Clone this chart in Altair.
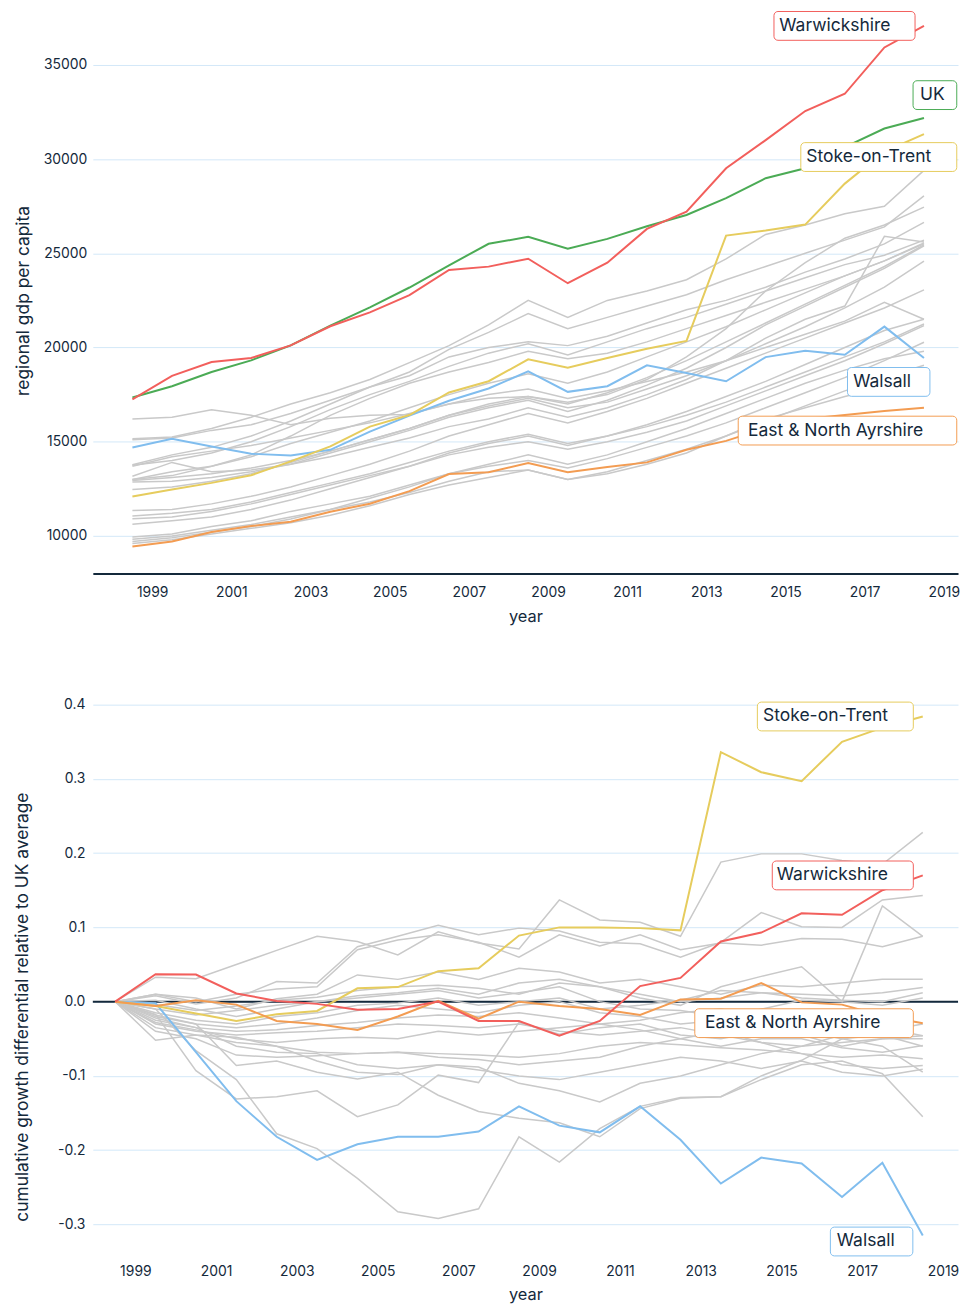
import altair as alt
import pandas as pd

years = list(range(1998, 2019))

# ---------------- top panel: regional GDP per capita ----------------
gdp_warwickshire = [17243, 18491, 19230, 19440, 20109, 21128, 21867, 22781, 24117, 24293, 24713,
                    23412, 24502, 26295, 27209, 29512, 31006, 32553, 33468, 35929, 37071]
gdp_uk = [17348, 17946, 18702, 19317, 20109, 21163, 22130, 23185, 24363, 25506, 25873,
          25240, 25768, 26435, 27033, 27930, 28985, 29512, 30637, 31622, 32184]
gdp_stoke = [12092, 12461, 12813, 13217, 13955, 14747, 15801, 16417, 17612, 18210, 19370,
             18929, 19439, 19931, 20353, 25943, 26207, 26524, 28700, 30400, 31323]
gdp_walsall = [14694, 15151, 14747, 14360, 14272, 14571, 15538, 16382, 17173, 17823, 18737,
               17646, 17944, 19052, 18648, 18208, 19491, 19825, 19615, 21109, 19439]
gdp_ayrshire = [9437, 9701, 10211, 10527, 10756, 11283, 11705, 12373, 13287, 13375, 13868,
                13374, 13655, 13901, 14569, 15044, 15713, 16205, 16416, 16627, 16802]

gdp_other_01 = [15151, 15250, 15700, 16300, 17000, 17600, 18300, 19200, 20100, 21200, 22500, 21600, 22500, 23000, 23600, 24700, 26000, 26500, 27100, 27500, 29400]
gdp_other_02 = [13780, 14300, 14700, 15300, 16100, 17000, 17900, 18700, 19900, 20800, 21800, 21000, 21600, 22200, 22800, 23600, 24300, 25000, 25700, 26400, 28050]
gdp_other_03 = [16206, 16300, 16700, 16400, 15900, 16250, 16400, 16450, 17000, 17300, 17400, 17100, 17500, 18300, 19500, 21000, 23000, 24500, 25800, 26500, 27450]
gdp_other_04 = [15098, 15200, 15600, 15900, 16500, 17200, 17900, 18500, 19500, 20000, 20300, 20100, 20600, 21300, 22000, 22500, 23200, 24000, 24700, 25500, 26645]
gdp_other_05 = [13745, 14000, 14400, 15000, 15800, 16700, 17500, 18200, 19000, 19700, 20200, 19600, 20300, 21000, 21600, 22300, 23000, 23700, 24400, 24900, 25700]
gdp_other_06 = [13164, 13900, 13400, 13500, 13800, 14200, 14700, 15200, 15800, 16200, 16800, 16300, 16800, 17500, 18300, 19300, 20500, 21500, 22200, 25900, 25600]
gdp_other_07 = [12989, 13200, 13700, 14200, 14900, 15500, 16100, 16800, 17500, 18100, 18600, 18100, 18700, 19500, 20300, 21100, 22000, 22900, 23800, 24600, 25550]
gdp_other_08 = [12936, 13100, 13300, 13600, 14000, 14500, 15100, 15700, 16400, 17000, 17400, 17000, 17600, 18400, 19300, 20300, 21300, 22300, 23300, 24300, 25450]
gdp_other_09 = [12866, 12900, 13100, 13400, 13800, 14400, 15000, 15600, 16300, 16800, 17200, 16600, 17200, 18000, 18900, 20000, 21200, 22200, 23200, 24200, 25400]
gdp_other_10 = [12461, 12600, 12900, 13300, 13900, 14500, 15100, 15700, 16400, 16900, 17300, 16800, 17100, 17800, 18500, 19300, 20200, 21100, 22100, 23200, 24586]
gdp_other_11 = [13700, 14200, 14500, 14800, 15200, 15600, 16000, 16500, 17000, 17500, 17800, 17300, 17700, 18200, 18700, 19300, 20000, 20700, 21400, 22400, 21500]
gdp_other_12 = [11354, 11400, 11700, 12100, 12600, 13200, 13800, 14500, 15300, 15900, 16500, 16000, 16600, 17300, 18100, 18900, 19700, 20500, 21300, 22100, 23056]
gdp_other_13 = [11055, 11200, 11400, 11800, 12300, 12800, 13300, 13900, 14500, 15000, 15400, 14900, 15300, 15800, 16400, 17100, 17900, 18700, 19500, 20300, 21250]
gdp_other_14 = [10914, 11000, 11300, 11700, 12200, 12700, 13200, 13700, 14300, 14700, 15000, 14600, 15000, 15500, 16100, 16900, 17700, 18500, 19300, 20200, 21160]
gdp_other_15 = [10615, 10800, 11000, 11400, 11900, 12500, 13100, 13700, 14400, 14900, 15300, 14800, 15300, 15900, 16600, 17400, 18200, 19100, 20000, 20900, 21500]
gdp_other_16 = [9947, 10100, 10500, 10800, 11300, 11700, 12100, 12700, 13300, 13700, 14000, 13600, 14100, 14700, 15300, 16000, 16800, 17600, 18400, 19300, 20280]
gdp_other_17 = [9824, 10000, 10300, 10600, 11000, 11400, 11800, 12300, 12900, 13400, 13500, 13000, 13400, 14000, 14600, 15300, 16100, 16900, 17700, 18400, 19060]
gdp_other_18 = [9701, 9900, 10200, 10500, 10900, 11400, 12000, 12600, 13300, 13800, 14300, 13800, 14300, 15000, 15700, 16500, 17300, 18100, 18800, 19400, 19800]
gdp_other_19 = [9596, 9800, 10100, 10400, 10700, 11100, 11600, 12200, 12700, 13100, 13500, 13000, 13300, 13800, 14400, 15300, 16200, 16800, 17400, 17900, 18000]
gdp_other_20 = [12990, 13400, 13700, 14300, 15300, 16400, 17300, 18100, 18700, 19200, 19800, 19400, 19700, 20300, 21000, 21700, 22400, 23100, 23800, 24600, 25500]

# ---------------- bottom panel: cumulative growth differential vs UK ----------------
diff_stoke = [0, -0.006, -0.016, -0.026, -0.017, -0.0125, 0.018, 0.0196, 0.041, 0.045, 0.089,
              0.100, 0.100, 0.099, 0.096, 0.336, 0.309, 0.297, 0.350, 0.369, 0.384]
diff_warwickshire = [0, 0.037, 0.0365, 0.011, 0.001, -0.003, -0.011, -0.010, 0.000, -0.026, -0.026,
                     -0.046, -0.026, 0.021, 0.032, 0.081, 0.093, 0.119, 0.117, 0.150, 0.170]
diff_walsall = [0, -0.002, -0.068, -0.134, -0.182, -0.213, -0.192, -0.182, -0.182, -0.175, -0.141,
                -0.167, -0.176, -0.141, -0.186, -0.245, -0.210, -0.218, -0.263, -0.217, -0.315]
diff_ayrshire = [0, -0.006, 0.002, -0.004, -0.026, -0.030, -0.038, -0.020, 0.001, -0.023, 0.000,
                 -0.006, -0.010, -0.018, 0.003, 0.004, 0.025, -0.001, -0.004, -0.019, -0.029]

diff_other_01 = [0, 0.033, 0.031, 0.050, 0.069, 0.088, 0.081, 0.063, 0.094, 0.079, 0.071, 0.137, 0.110, 0.107, 0.088, 0.188, 0.199, 0.199, 0.190, 0.185, 0.228]
diff_other_02 = [0, 0.008, -0.003, 0.005, 0.027, 0.025, 0.074, 0.088, 0.103, 0.090, 0.099, 0.095, 0.080, 0.078, 0.060, 0.080, 0.120, 0.101, 0.100, 0.137, 0.143]
diff_other_03 = [0, 0.010, 0.000, 0.010, 0.017, 0.020, 0.070, 0.083, 0.090, 0.080, 0.060, 0.090, 0.075, 0.090, 0.070, 0.079, 0.076, 0.085, 0.084, 0.074, 0.088]
diff_other_04 = [0, -0.004, -0.012, -0.006, 0.002, 0.006, 0.015, 0.020, 0.022, 0.018, 0.010, 0.025, 0.020, 0.005, -0.005, 0.020, 0.034, 0.047, 0.000, 0.129, 0.088]
diff_other_05 = [0, 0.010, 0.005, -0.010, 0.004, 0.010, 0.036, 0.030, 0.040, 0.030, 0.045, 0.040, 0.025, 0.030, 0.020, 0.010, 0.022, 0.020, 0.025, 0.030, 0.030]
diff_other_06 = [0, -0.010, -0.018, -0.012, -0.005, 0.000, 0.008, 0.012, 0.018, 0.010, 0.025, 0.030, 0.020, 0.010, 0.000, 0.005, 0.012, 0.010, 0.008, 0.012, 0.019]
diff_other_07 = [0, -0.015, -0.025, -0.030, -0.020, -0.015, -0.005, -0.002, 0.005, -0.005, 0.000, 0.005, -0.010, -0.005, 0.002, 0.015, 0.012, 0.005, 0.002, 0.000, 0.012]
diff_other_08 = [0, -0.020, -0.030, -0.035, -0.030, -0.022, -0.012, -0.005, -0.010, -0.015, -0.005, 0.000, -0.015, -0.020, -0.030, -0.025, -0.010, 0.002, 0.000, -0.005, 0.005]
diff_other_09 = [0, -0.025, -0.035, -0.040, -0.038, -0.032, -0.028, -0.022, -0.018, -0.020, -0.015, -0.022, -0.030, -0.025, -0.015, -0.010, -0.020, -0.030, -0.040, -0.035, -0.046]
diff_other_10 = [0, -0.030, -0.040, -0.045, -0.042, -0.040, -0.035, -0.030, -0.032, -0.035, -0.030, -0.040, -0.045, -0.040, -0.035, -0.045, -0.055, -0.060, -0.055, -0.050, -0.050]
diff_other_11 = [0, -0.028, -0.038, -0.050, -0.055, -0.050, -0.048, -0.050, -0.040, -0.045, -0.040, -0.035, -0.030, -0.038, -0.050, -0.060, -0.050, -0.050, -0.062, -0.068, -0.059]
diff_other_12 = [0, -0.035, -0.045, -0.048, -0.060, -0.068, -0.070, -0.068, -0.070, -0.072, -0.075, -0.070, -0.060, -0.055, -0.058, -0.062, -0.065, -0.070, -0.075, -0.072, -0.077]
diff_other_13 = [0, -0.040, -0.050, -0.072, -0.075, -0.073, -0.070, -0.068, -0.075, -0.078, -0.085, -0.080, -0.075, -0.060, -0.050, -0.040, -0.055, -0.070, -0.085, -0.090, -0.086]
diff_other_14 = [0, -0.052, -0.045, -0.055, -0.060, -0.080, -0.095, -0.098, -0.085, -0.092, -0.100, -0.105, -0.095, -0.085, -0.075, -0.080, -0.090, -0.080, -0.095, -0.100, -0.091]
diff_other_15 = [0, -0.018, -0.030, -0.086, -0.080, -0.095, -0.104, -0.095, -0.126, -0.148, -0.157, -0.163, -0.182, -0.144, -0.130, -0.128, -0.105, -0.085, -0.080, -0.097, -0.155]
diff_other_16 = [0, -0.017, -0.093, -0.131, -0.128, -0.120, -0.155, -0.139, -0.099, -0.109, -0.028, -0.044, -0.035, -0.030, -0.045, -0.050, -0.040, -0.045, -0.060, -0.050, -0.046]
diff_other_17 = [0, -0.010, -0.066, -0.105, -0.178, -0.198, -0.238, -0.283, -0.292, -0.279, -0.182, -0.216, -0.171, -0.141, -0.129, -0.128, -0.100, -0.079, -0.050, -0.060, -0.095]
diff_other_18 = [0, -0.022, -0.035, -0.060, -0.068, -0.070, -0.085, -0.090, -0.085, -0.088, -0.110, -0.120, -0.135, -0.110, -0.100, -0.085, -0.070, -0.060, -0.045, -0.040, -0.030]
diff_other_19 = [0, 0.002, -0.010, -0.020, -0.010, 0.000, 0.005, 0.010, 0.015, 0.005, 0.012, 0.020, 0.000, -0.010, -0.012, -0.020, -0.030, -0.040, -0.050, -0.045, -0.060]

x_tick_labels = [1999, 2001, 2003, 2005, 2007, 2009, 2011, 2013, 2015, 2017, 2019]
top_y_ticks = [10000, 15000, 20000, 25000, 30000, 35000]
bottom_y_ticks = [-0.3, -0.2, -0.1, 0.0, 0.1, 0.2, 0.3, 0.4]

# ---------------- styling ----------------
DARK = "#14293b"
GRID = "#d3e8f8"
GRAY = "#c9c9c9"
FONT = "Inter"
COLORS = {
    "UK": "#4bab55",
    "Walsall": "#80bdee",
    "Stoke-on-Trent": "#e6cc5d",
    "East & North Ayrshire": "#f39c52",
    "Warwickshire": "#f25f5c",
}
TOP_X_DOMAIN = [1997, 2018.86]
BOTTOM_X_DOMAIN = [1997.4465, 2018.873]


def long_frame(series_map):
    rows = []
    for name, vals in series_map.items():
        for yr, v in zip(years, vals):
            rows.append({"region": name, "year": yr, "value": v})
    return pd.DataFrame(rows)


top_hi = long_frame({
    "UK": gdp_uk, "Walsall": gdp_walsall, "Stoke-on-Trent": gdp_stoke,
    "East & North Ayrshire": gdp_ayrshire, "Warwickshire": gdp_warwickshire,
})
top_gray = long_frame({f"other {i}": s for i, s in enumerate([
    gdp_other_01, gdp_other_02, gdp_other_03, gdp_other_04, gdp_other_05, gdp_other_06, gdp_other_07,
    gdp_other_08, gdp_other_09, gdp_other_10, gdp_other_11, gdp_other_12, gdp_other_13, gdp_other_14,
    gdp_other_15, gdp_other_16, gdp_other_17, gdp_other_18, gdp_other_19, gdp_other_20])})
bot_hi = long_frame({
    "Walsall": diff_walsall, "Stoke-on-Trent": diff_stoke,
    "East & North Ayrshire": diff_ayrshire, "Warwickshire": diff_warwickshire,
})
bot_gray = long_frame({f"other {i}": s for i, s in enumerate([
    diff_other_01, diff_other_02, diff_other_03, diff_other_04, diff_other_05, diff_other_06, diff_other_07,
    diff_other_08, diff_other_09, diff_other_10, diff_other_11, diff_other_12, diff_other_13, diff_other_14,
    diff_other_15, diff_other_16, diff_other_17, diff_other_18, diff_other_19])})

label_tick_values = [v - 0.5 for v in x_tick_labels]


def x_axis(show_domain, label_pad, title_pad):
    return alt.Axis(values=label_tick_values, labelExpr="format(datum.value + 0.5, 'd')",
                    ticks=False, tickSize=0, grid=False, domain=show_domain, domainColor=DARK,
                    domainWidth=2, labelPadding=label_pad, labelFlush=False, title="year",
                    titlePadding=title_pad, titleFontSize=16.5)


def panel(gray_df, hi_df, x_domain, y_scale, y_axis, show_domain, label_pad, title_pad,
          width, height, labels, zero_rule=False):
    xs = alt.Scale(domain=x_domain, nice=False, zero=False)
    xe = alt.X("year:Q", scale=xs, axis=x_axis(show_domain, label_pad, title_pad))
    ye = alt.Y("value:Q", scale=y_scale, axis=y_axis)
    layers = []
    if zero_rule:
        layers.append(alt.Chart(pd.DataFrame({"value": [0.0]})).mark_rule(
            color=DARK, strokeWidth=2).encode(y=ye))
    layers.append(alt.Chart(gray_df).mark_line(color=GRAY, strokeWidth=1.5).encode(
        x=xe, y=ye, detail="region:N"))
    names = list(hi_df["region"].unique())
    layers.append(alt.Chart(hi_df).mark_line(strokeWidth=2).encode(
        x=xe, y=ye,
        color=alt.Color("region:N", scale=alt.Scale(domain=names, range=[COLORS[n] for n in names]),
                        legend=None)))
    for name, box_w, gap, dy, text_dx in labels:
        end = alt.Chart(hi_df).transform_filter(
            (alt.datum.region == name) & (alt.datum.year == years[-1]))
        layers.append(end.mark_rect(
            fill="white", stroke=COLORS[name], strokeWidth=1, cornerRadius=4,
            xOffset=-(gap + box_w), x2Offset=-gap, yOffset=dy - 14.5, y2Offset=dy + 14.5,
        ).encode(x=xe, x2="year:Q", y=ye, y2="value:Q"))
        layers.append(end.mark_text(
            align="right", baseline="middle", font=FONT, fontSize=17.6, color=DARK,
            dx=text_dx, dy=dy,
        ).encode(x=xe, y=ye, text="region:N"))
    return alt.layer(*layers).properties(width=width, height=height)


# (name, box width px, gap from line end to box right px, vertical shift px, text right edge px)
top_labels = [
    ("Warwickshire", 142, 9, 0, -33.7),
    ("UK", 44, -33, -23, 21),
    ("Stoke-on-Trent", 157, -33, 23, 7.3),
    ("Walsall", 83, -6, 24, -13),
    ("East & North Ayrshire", 220, -33, 23, -0.7),
]
bottom_labels = [
    ("Stoke-on-Trent", 157, 9.5, 0, -35),
    ("Warwickshire", 142, 9.5, 0, -35),
    ("East & North Ayrshire", 220, 9.5, 0, -42.7),
    ("Walsall", 83, 10, 6, -28.3),
]

top = panel(
    top_gray, top_hi, TOP_X_DOMAIN,
    alt.Scale(domain=[8000, 37000], nice=False, zero=False),
    alt.Axis(values=top_y_ticks, format="d", ticks=False, domain=False, grid=True,
             labelPadding=6, title="regional gdp per capita", titlePadding=11),
    True, 12, 9.5, 871, 550, top_labels,
)
bottom = panel(
    bot_gray, bot_hi, BOTTOM_X_DOMAIN,
    alt.Scale(domain=[-0.3385, 0.4775], nice=False, zero=False),
    alt.Axis(values=bottom_y_ticks,
             labelExpr="replace(format(datum.value, '.1f'), '\u2212', '-')",
             ticks=False, domain=False, grid=True, labelPadding=8,
             title="cumulative growth differential relative to UK average",
             titlePadding=26, titleY=362),
    False, 12, 8, 871, 610, bottom_labels, zero_rule=True,
)

chart = alt.concat(top, bottom, columns=1, spacing=22, align="none").properties(
    padding={"left": 5.4, "top": -2, "right": 0, "bottom": 0}
).configure_view(stroke=None).configure_axis(
    labelFont=FONT, titleFont=FONT, labelColor=DARK, titleColor=DARK,
    labelFontSize=14, titleFontSize=17.5, titleFontWeight="normal",
    gridColor=GRID, gridWidth=1,
)

chart.save("out.html", embed_options={"renderer": "svg", "actions": False})
